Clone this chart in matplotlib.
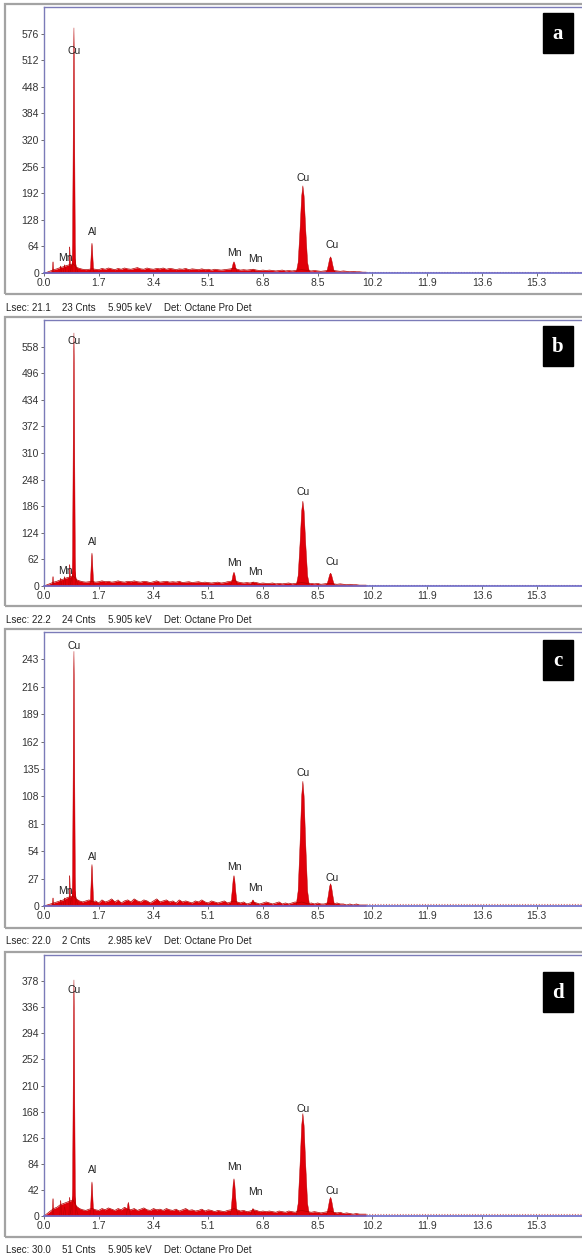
import numpy as np
import matplotlib
matplotlib.use("Agg")
import matplotlib.pyplot as plt
from matplotlib.patches import Rectangle
from matplotlib.transforms import Bbox, TransformedBbox, blended_transform_factory

plt.rcParams['font.family'] = ['Liberation Sans Narrow', 'Liberation Sans', 'DejaVu Sans']

# ---------------- data ----------------
panel_letters = ['a', 'b', 'c', 'd']
y_steps = [64, 62, 27, 42]
x_ticks = [0.0, 1.7, 3.4, 5.1, 6.8, 8.5, 10.2, 11.9, 13.6, 15.3]

status_lsec = ['Lsec: 21.1', 'Lsec: 22.2', 'Lsec: 22.0', 'Lsec: 30.0']
status_cnts = ['23 Cnts', '24 Cnts', '2 Cnts', '51 Cnts']
status_kev = ['5.905 keV', '5.905 keV', '2.985 keV', '5.905 keV']
status_det = ['Det: Octane Pro Det'] * 4

# background spectrum, 0.0 - 10.0 keV in 0.1 keV channels
bg_energy = [round(0.1 * i, 1) for i in range(101)]
bg_a = [0, 2, 5, 8, 10, 13, 15, 18, 20, 22,
        14, 11, 9, 8, 9, 10, 9, 8, 11, 9,
        12, 10, 8, 11, 9, 12, 10, 9, 11, 13,
        10, 9, 12, 10, 9, 11, 10, 12, 9, 11,
        10, 8, 10, 9, 11, 8, 10, 9, 8, 10,
        8, 9, 7, 9, 8, 7, 8, 9, 10, 12,
        9, 7, 8, 7, 8, 9, 7, 6, 7, 6,
        7, 6, 5, 6, 7, 5, 6, 5, 6, 7,
        8, 7, 6, 5, 6, 5, 4, 5, 6, 7,
        6, 5, 4, 5, 4, 3, 4, 3, 3, 2, 2]
bg_b = [0, 3, 6, 9, 11, 14, 16, 19, 21, 24,
        15, 12, 10, 9, 10, 11, 9, 10, 12, 10,
        11, 9, 10, 12, 10, 9, 11, 10, 12, 10,
        9, 11, 10, 8, 10, 12, 9, 10, 11, 9,
        10, 9, 11, 8, 9, 10, 8, 9, 10, 8,
        9, 8, 7, 8, 9, 7, 8, 10, 11, 13,
        10, 8, 7, 8, 7, 9, 8, 6, 7, 6,
        6, 7, 5, 6, 5, 6, 7, 5, 6, 7,
        8, 7, 5, 6, 5, 6, 4, 5, 6, 6,
        5, 4, 5, 4, 3, 4, 3, 3, 2, 2, 2]
bg_c = [0, 1, 2, 3, 4, 5, 6, 8, 9, 10,
        7, 5, 4, 5, 6, 4, 5, 3, 6, 4,
        5, 7, 4, 6, 3, 5, 6, 4, 7, 5,
        4, 6, 5, 3, 5, 7, 4, 5, 6, 4,
        5, 3, 6, 4, 5, 4, 3, 5, 4, 6,
        4, 3, 5, 4, 3, 4, 5, 3, 4, 5,
        4, 3, 4, 2, 3, 4, 3, 2, 3, 4,
        3, 2, 3, 4, 2, 3, 2, 3, 4, 3,
        4, 3, 2, 3, 2, 3, 2, 2, 3, 2,
        2, 3, 2, 2, 1, 2, 1, 2, 1, 1, 1]
bg_d = [0, 4, 8, 12, 14, 18, 20, 22, 24, 26,
        16, 12, 10, 9, 11, 12, 10, 9, 12, 10,
        13, 11, 9, 12, 10, 14, 11, 10, 12, 9,
        11, 13, 10, 9, 12, 10, 11, 9, 12, 10,
        9, 11, 8, 10, 12, 9, 10, 8, 9, 11,
        8, 10, 9, 7, 9, 8, 7, 9, 10, 12,
        10, 8, 9, 7, 8, 10, 9, 7, 8, 7,
        8, 7, 6, 8, 7, 6, 8, 7, 6, 8,
        9, 8, 7, 6, 7, 6, 5, 6, 7, 8,
        6, 5, 6, 4, 5, 4, 3, 4, 3, 3, 3]
backgrounds = [bg_a, bg_b, bg_c, bg_d]
tail_levels = [3, 3, 1.5, 4]

# peaks: energy (keV), half width (keV), heights per panel (counts)
peak_energy = [0.28, 0.52, 0.64, 0.80, 0.93, 0.93, 1.49, 2.62, 5.90, 6.49, 8.04, 8.90]
peak_hw = [0.035, 0.035, 0.05, 0.035, 0.15, 0.06, 0.07, 0.08, 0.13, 0.11, 0.21, 0.16]
heights_a = [27, 17, 20, 63, 40, 590, 72, 0, 27, 8, 210, 39]
heights_b = [22, 18, 22, 50, 40, 590, 77, 0, 32, 9, 198, 30]
heights_c = [8, 6, 8, 30, 18, 251, 41, 0, 30, 6, 123, 22]
heights_d = [28, 25, 15, 30, 36, 380, 55, 22, 60, 12, 165, 30]
peak_heights = [heights_a, heights_b, heights_c, heights_d]

# element labels
label_text = ['Mn', 'Cu', 'Al', 'Mn', 'Mn', 'Cu', 'Cu']
label_energy = [0.65, 0.93, 1.52, 5.92, 6.55, 8.06, 8.95]
label_y_a = [36, 534, 99, 48, 34, 229, 68]
label_y_b = [35, 571, 103, 54, 33, 218, 56]
label_y_c = [15, 256, 48, 38, 18, 131, 28]
label_y_d = [None, 364, 74, 79, 39, 172, 40]
label_ys = [label_y_a, label_y_b, label_y_c, label_y_d]

# ---------------- layout (pixels) ----------------
W, H = 582, 1258
fig = plt.figure(figsize=(W / 100, H / 100), dpi=100)
fig.patch.set_facecolor('white')

x0_px = 44.0
px_per_kev = 32.2
xmax = 18.0
ax_tops = [7, 320, 632, 955]
ax_bots = [273, 586, 906, 1216]
frame_tops = [4, 317, 629, 952]
frame_bots = [294, 606, 928, 1237]
status_y = [308, 620, 941, 1250]
box_tops = [13, 326, 640, 972]

RED = '#e0000a'
EDGE = '#b00000'
SPINE = '#7b7bb8'

def fx(px):
    return px / W

def fy(py):
    return 1 - py / H

for i in range(4):
    # outer frame
    fig.add_artist(Rectangle((fx(5), fy(frame_bots[i])), fx(640), (frame_bots[i] - frame_tops[i]) / H,
                             transform=fig.transFigure, fill=False, ec='#a3a3a3', lw=1.6))
    right_px = x0_px + xmax * px_per_kev
    ax = fig.add_axes([fx(x0_px), fy(ax_bots[i]), (right_px - x0_px) / W,
                       (ax_bots[i] - ax_tops[i]) / H])
    step = y_steps[i]
    ymax = 10 * step
    ax.set_xlim(0, xmax)
    ax.set_ylim(0, ymax)
    for s in ax.spines.values():
        s.set_color(SPINE)
        s.set_linewidth(1.0)
    ax.spines['bottom'].set_color('#6a6ac8')
    ax.spines['bottom'].set_linewidth(1.2)

    ax.set_xticks(x_ticks)
    ax.set_xticklabels([f'{t:.1f}' for t in x_ticks])
    yt = [step * k for k in range(10)]
    ax.set_yticks(yt)
    ax.set_yticklabels([str(v) for v in yt])
    ax.tick_params(axis='both', labelsize=7.5, length=2, width=0.6, color='#555555',
                   labelcolor='#333333', pad=1.5)

    # background noise
    bg = backgrounds[i]
    ax.fill_between(bg_energy, bg, 0, color=RED, lw=0)
    ax.plot(bg_energy, bg, color=EDGE, lw=0.5)
    ax.plot([bg_energy[-1], xmax], [tail_levels[i], tail_levels[i]], ls=(0, (1, 1.5)),
            color='#d87070', lw=0.8)

    # peaks (bell-like polygon)
    for e, w, h in zip(peak_energy, peak_hw, peak_heights[i]):
        if h <= 0:
            continue
        xs = [e - w, e - 0.7 * w, e - 0.42 * w, e - 0.18 * w, e,
              e + 0.18 * w, e + 0.42 * w, e + 0.7 * w, e + w]
        ys = [0, 0.12 * h, 0.5 * h, 0.88 * h, h, 0.88 * h, 0.5 * h, 0.12 * h, 0]
        ax.fill(xs, ys, color=RED, ec=EDGE, lw=0.3)

    # labels
    for t, e, yv in zip(label_text, label_energy, label_ys[i]):
        if yv is None:
            continue
        ax.text(e, yv, t, ha='center', va='center', fontsize=7.5, color='#222222')

    # partially clipped top tick label (panel b)
    if i == 1:
        tr = blended_transform_factory(ax.transAxes, ax.transData)
        tt = ax.text(-0.006, ymax, str(ymax), transform=tr, ha='right', va='center',
                     fontsize=7.5, color='#333333', clip_on=True)
        tt.set_clip_box(TransformedBbox(Bbox([[0, fy(frame_tops[i] + 1)], [1, fy(frame_tops[i] + 40)]]),
                                        fig.transFigure))

    # letter box
    fig.add_artist(Rectangle((fx(543), fy(box_tops[i] + 40)), fx(30), 40 / H,
                             transform=fig.transFigure, color='black'))
    fig.text(fx(558), fy(box_tops[i] + 21), panel_letters[i], ha='center', va='center',
             color='white', fontsize=15, fontweight='bold',
             family=['Liberation Serif', 'DejaVu Serif'])

    # status line
    for xp, txt in zip([6, 62, 108, 164],
                       [status_lsec[i], status_cnts[i], status_kev[i], status_det[i]]):
        fig.text(fx(xp), fy(status_y[i]), txt, ha='left', va='center', fontsize=7,
                 color='#222222')

fig.savefig('out.png', dpi=100, facecolor='white')
